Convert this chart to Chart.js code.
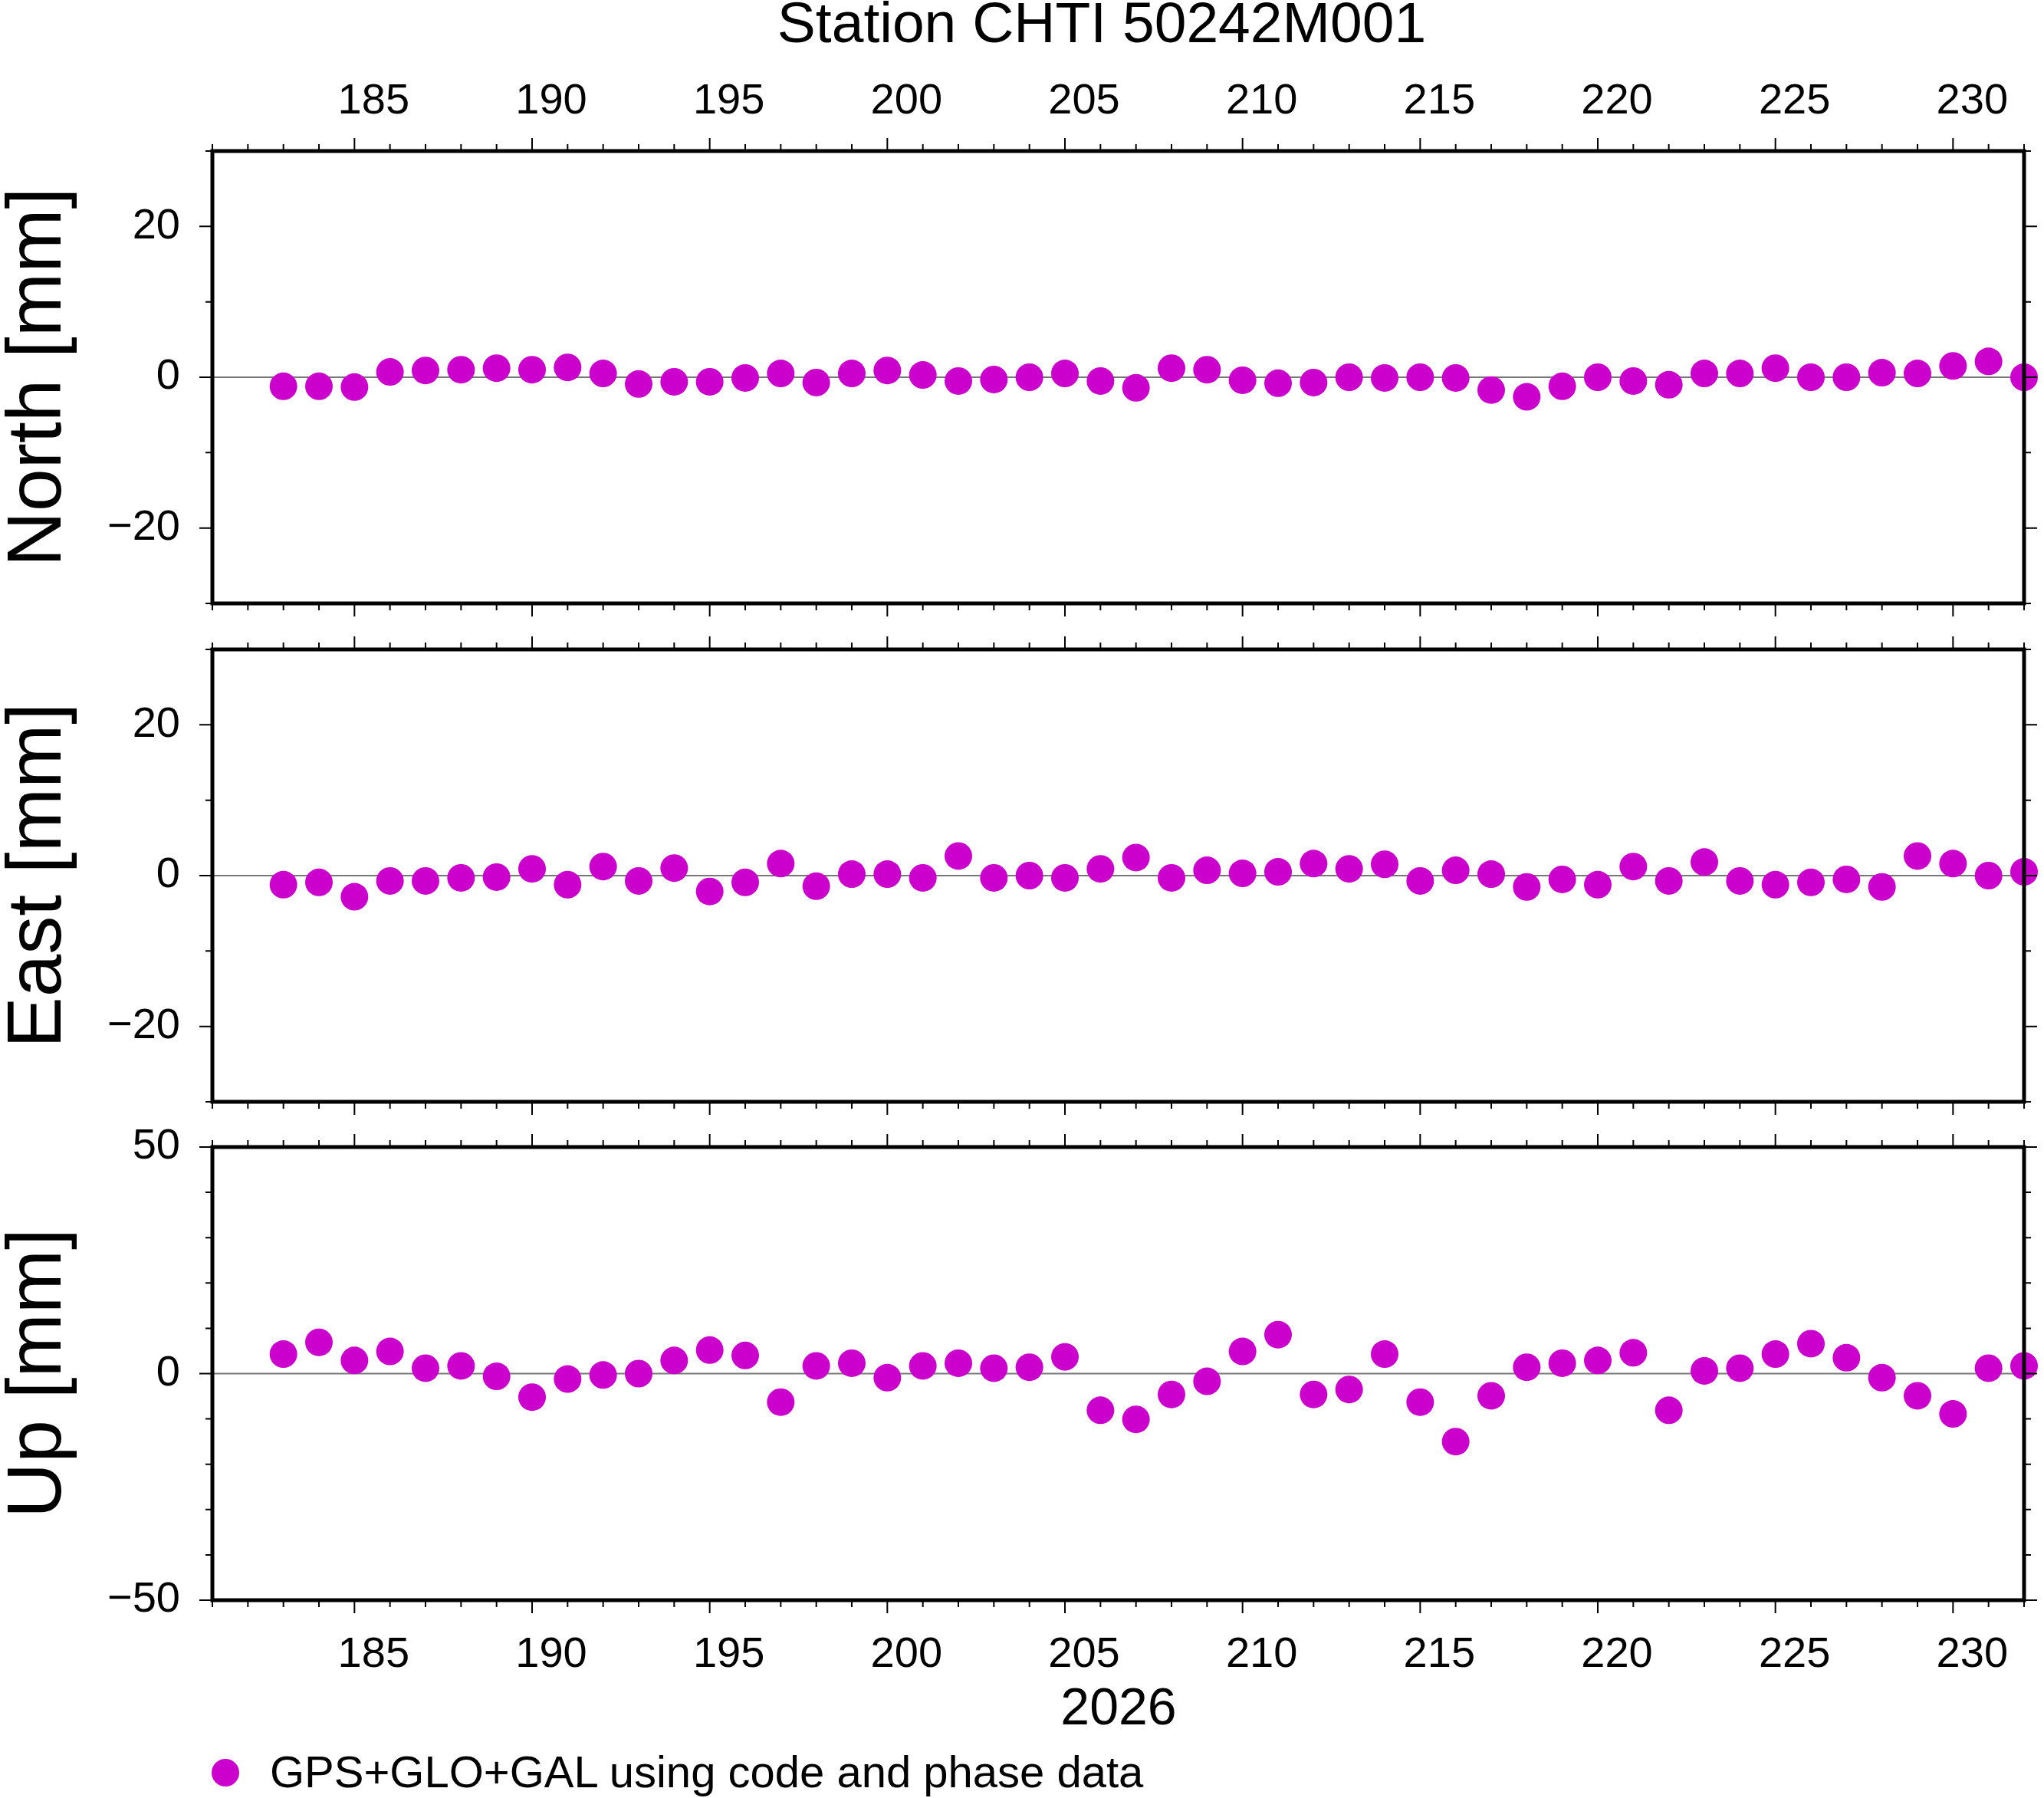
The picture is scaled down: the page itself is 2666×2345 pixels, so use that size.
<!DOCTYPE html>
<html><head><meta charset="utf-8">
<script src="https://cdn.jsdelivr.net/npm/chart.js@4"></script>
<style>
body{margin:0;width:2666px;height:2345px;background:#fff;position:relative;font-family:"Liberation Sans",Arial,sans-serif;overflow:hidden}
.c{position:absolute;left:0;width:2666px}
.t{position:absolute;white-space:nowrap;color:#000}
.yl{position:absolute;font-size:100px;transform:translate(-50%,-50%) rotate(-90deg);white-space:nowrap}
</style></head><body>
<div class="t" style="left:0;width:2874px;top:-14px;text-align:center;font-size:75px">Station CHTI 50242M001</div>
<div class="yl" style="left:44px;top:492px">North [mm]</div>
<div class="yl" style="left:44px;top:1142px">East [mm]</div>
<div class="yl" style="left:44px;top:1791px">Up [mm]</div>
<div class="t" style="left:0;width:2918px;top:2186px;text-align:center;font-size:68px">2026</div>
<div style="position:absolute;left:276px;top:2294px;width:36px;height:36px;border-radius:50%;background:#cc00cc"></div>
<div class="t" style="left:352px;top:2277px;font-size:58px">GPS+GLO+GAL using code and phase data</div>
<div class="c" style="top:0;height:820px"><canvas id="n"></canvas></div>
<div class="c" style="top:800px;height:680px"><canvas id="e"></canvas></div>
<div class="c" style="top:1460px;height:760px"><canvas id="u"></canvas></div>
<script>
const days=[];for(let d=183;d<=232;d++)days.push(d);
const north=[-1.2,-1.2,-1.3,0.7,0.9,1.0,1.2,1.0,1.3,0.5,-0.9,-0.6,-0.6,-0.1,0.5,-0.7,0.5,0.9,0.3,-0.5,-0.3,0,0.5,-0.5,-1.4,1.2,1.0,-0.4,-0.8,-0.7,0,-0.1,0,-0.1,-1.7,-2.6,-1.2,0,-0.5,-1.0,0.5,0.5,1.2,0,0,0.6,0.5,1.5,2.1,0];
const east=[-1.2,-0.9,-2.8,-0.7,-0.7,-0.3,-0.2,0.9,-1.2,1.2,-0.7,1.0,-2.1,-0.9,1.6,-1.4,0.2,0.2,-0.3,2.6,-0.3,0,-0.3,0.9,2.4,-0.3,0.7,0.3,0.5,1.6,0.9,1.5,-0.7,0.7,0.2,-1.5,-0.5,-1.2,1.2,-0.7,1.8,-0.7,-1.2,-0.9,-0.5,-1.5,2.6,1.6,0,0.5];
const up=[4.3,6.9,2.9,4.9,1.2,1.7,-0.6,-5.2,-1.2,-0.3,0,2.9,5.2,4.0,-6.3,1.7,2.3,-0.9,1.7,2.3,1.2,1.4,3.7,-8.1,-10.1,-4.6,-1.7,4.9,8.6,-4.6,-3.5,4.3,-6.3,-15,-4.9,1.4,2.3,2.9,4.6,-8.1,0.6,1.2,4.3,6.6,3.5,-0.9,-4.9,-8.9,1.2,1.7];
const xTickLabels=[185,190,195,200,205,210,215,220,225,230];
const nTicks=[-20,0,20], uTicks=[-50,0,50];
const F='"Liberation Sans",Arial,sans-serif';
function make(id,vals,ymin,ymax,ylab,ystep,pad,topLab,botLab){
  const frame={id:'f',afterDatasetsDraw(c){
    const ctx=c.ctx,a=c.chartArea,x=c.scales.x,y=c.scales.y;
    ctx.save();ctx.strokeStyle='#000';ctx.fillStyle='#000';
    ctx.lineWidth=2;ctx.beginPath();
    for(let d=181;d<=232;d++){const px=x.getPixelForValue(d);const L=(d%5==0)?17:9;
      ctx.moveTo(px,a.top);ctx.lineTo(px,a.top-L);ctx.moveTo(px,a.bottom);ctx.lineTo(px,a.bottom+L);}
    for(let v=ymin;v<=ymax;v+=ystep){const py=y.getPixelForValue(v);const L=ylab.includes(v)?17:9;
      ctx.moveTo(a.left,py);ctx.lineTo(a.left-L,py);ctx.moveTo(a.right,py);ctx.lineTo(a.right+L,py);}
    ctx.stroke();
    ctx.font='56px '+F;ctx.textAlign='right';ctx.textBaseline='middle';
    ylab.forEach(v=>ctx.fillText(v<0?'\u2212'+(-v):String(v),a.left-42,y.getPixelForValue(v)));
    ctx.textAlign='center';
    xTickLabels.forEach(v=>{const px=x.getPixelForValue(v);
      if(topLab)ctx.fillText(String(v),px+25,a.top-64);
      if(botLab)ctx.fillText(String(v),px+25,a.bottom+72);});
    ctx.lineWidth=5;ctx.strokeRect(a.left,a.top,a.right-a.left,a.bottom-a.top);
    ctx.restore();
  },beforeDatasetsDraw(c){
    const ctx=c.ctx,a=c.chartArea,y=c.scales.y;const py=y.getPixelForValue(0);
    ctx.save();ctx.strokeStyle='#777';ctx.lineWidth=2;ctx.beginPath();ctx.moveTo(a.left,py);ctx.lineTo(a.right,py);ctx.stroke();ctx.restore();}};
  new Chart(document.getElementById(id),{type:'scatter',
    data:{datasets:[{data:days.map((d,i)=>({x:d,y:vals[i]})),backgroundColor:'#cc00cc',borderWidth:0,pointRadius:18,clip:false}]},
    options:{responsive:true,maintainAspectRatio:false,animation:false,devicePixelRatio:1,
      layout:{padding:pad},
      plugins:{legend:{display:false},tooltip:{enabled:false}},
      scales:{x:{type:'linear',min:181,max:232,display:false},y:{min:ymin,max:ymax,display:false}}},
    plugins:[frame]});
}
make('n',north,-30,30,nTicks,10,{top:197,bottom:33,left:277,right:26},true,false);
make('e',east,-30,30,nTicks,10,{top:47,bottom:43,left:277,right:26},false,false);
make('u',up,-50,50,uTicks,10,{top:36,bottom:133,left:277,right:26},false,true);
</script></body></html>
